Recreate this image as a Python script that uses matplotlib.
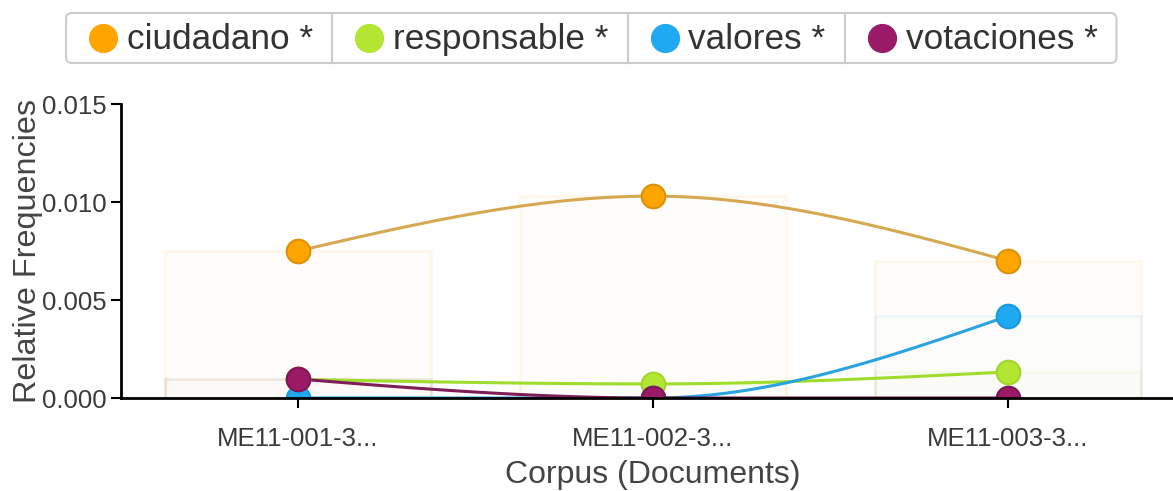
import numpy as np
import matplotlib
matplotlib.use('Agg')
import matplotlib.pyplot as plt
from matplotlib.patches import FancyBboxPatch

plt.rcParams['font.family'] = ['Liberation Sans', 'DejaVu Sans']

documents = ['ME11-001-3...', 'ME11-002-3...', 'ME11-003-3...']
terms = ['ciudadano *', 'responsable *', 'valores *', 'votaciones *']
ciudadano = [0.0075, 0.0103, 0.0070]
responsable = [0.00095, 0.00072, 0.00133]
valores = [0.0, 0.0, 0.00418]
votaciones = [0.00097, 0.0, 0.0]

fills = ['#ffa500', '#b2e633', '#1ea9f2', '#9b1a67']
edges = ['#dc9208', '#a0d62a', '#1998dc', '#801556']
lines = ['#d6a852', '#9fdd2c', '#2aa3e2', '#7e1d58']


def monotone(x, y, n=60):
    # d3 curveMonotoneX style interpolation
    x = np.asarray(x, float)
    y = np.asarray(y, float)
    h = np.diff(x)
    s = np.diff(y) / h
    t = np.zeros(len(x))
    for i in range(1, len(x) - 1):
        p = (s[i - 1] * h[i] + s[i] * h[i - 1]) / (h[i - 1] + h[i])
        t[i] = (np.sign(s[i - 1]) + np.sign(s[i])) * min(abs(s[i - 1]), abs(s[i]), 0.5 * abs(p))
    t[0] = (3 * s[0] - t[1]) / 2
    t[-1] = (3 * s[-1] - t[-2]) / 2
    xs, ys = [], []
    for i in range(len(x) - 1):
        u = np.linspace(0, 1, n)
        dx = h[i]
        p0, p3 = y[i], y[i + 1]
        p1 = y[i] + dx * t[i] / 3
        p2 = y[i + 1] - dx * t[i + 1] / 3
        xs.append(x[i] + u * dx)
        ys.append((1 - u) ** 3 * p0 + 3 * (1 - u) ** 2 * u * p1 + 3 * (1 - u) * u ** 2 * p2 + u ** 3 * p3)
    return np.concatenate(xs), np.concatenate(ys)


fig = plt.figure(figsize=(11.73, 4.91), dpi=100)
ax = fig.add_axes([120.5 / 1173, 1 - 398 / 491, 1065 / 1173, 294 / 491])

pos = np.arange(len(documents))
series = [ciudadano, responsable, valores, votaciones]

for vals, f in zip(series, fills):
    ax.bar(pos, vals, width=0.75, color=matplotlib.colors.to_rgba(f, 0.012),
           edgecolor=matplotlib.colors.to_rgba(f, 0.08), linewidth=2, zorder=1)

for vals, lc in zip(series, lines):
    sx, sy = monotone(pos, vals)
    ax.plot(sx, sy, color=lc, lw=2.2, zorder=3)

for vals, f, e in zip(series, fills, edges):
    ax.plot(pos, vals, 'o', ms=17, mfc=f, mec=e, mew=1.5, ls='none', zorder=4)

ax.set_xlim(-0.5, 2.5)
ax.set_ylim(0, 0.015)
ax.set_yticks([0, 0.005, 0.010, 0.015])
ax.set_yticklabels(['0.000', '0.005', '0.010', '0.015'])
ax.set_xticks(pos)
ax.set_xticklabels(documents)
for sp in ['top', 'right']:
    ax.spines[sp].set_visible(False)
for sp in ['left', 'bottom']:
    ax.spines[sp].set_linewidth(2)
    ax.spines[sp].set_color('black')
    ax.spines[sp].set_zorder(5)
ax.tick_params(axis='both', length=7, width=1.5, color='black', labelsize=18.5, labelcolor='#3a3a3a')
ax.tick_params(axis='x', pad=14)
ax.tick_params(axis='y', pad=3)
ax.set_xlabel('Corpus (Documents)', fontsize=23, color='#444444', labelpad=6)
ax.set_ylabel('Relative Frequencies', fontsize=23.3, color='#444444', labelpad=-1)

# legend
lax = fig.add_axes([0, 0, 1, 1], zorder=10)
lax.set_xlim(0, 1173)
lax.set_ylim(491, 0)
lax.axis('off')
renderer = fig.canvas.get_renderer()
x0, top, hgt = 66, 13, 50
cx = x0
dividers = []
for i, (name, f) in enumerate(zip(terms, fills)):
    lax.plot([cx + 37], [top + hgt / 2], 'o', ms=20, mfc=f, mec=f, ls='none')
    t = lax.text(cx + 61, top + hgt / 2 + 1, name, fontsize=25.3, color='#333333', va='center', ha='left')
    bb = t.get_window_extent(renderer)
    cx = cx + 61 + bb.width + 19
    dividers.append(cx)
box = FancyBboxPatch((x0, top), cx - x0, hgt, boxstyle='round,pad=0,rounding_size=6',
                     fc='none', ec='#cccccc', lw=1.5)
lax.add_patch(box)
for d in dividers[:-1]:
    lax.plot([d, d], [top, top + hgt], color='#cccccc', lw=1.5)

fig.savefig('out.png', dpi=100)
